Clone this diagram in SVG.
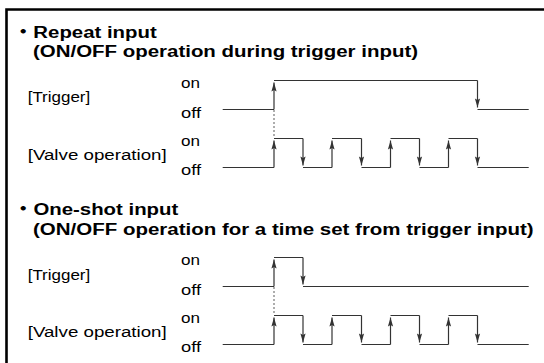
<svg xmlns="http://www.w3.org/2000/svg" width="544" height="363" viewBox="0 0 544 363">
<style>
.t{font-family:"Liberation Sans","Noto Sans CJK JP",sans-serif;fill:#000}
.b{font-weight:bold;font-size:17.4px}
.r{font-size:15.5px}
.w{fill:none;stroke:#333;stroke-width:1.2}
.e{fill:none;stroke:#333;stroke-width:1.2;marker-end:url(#arr)}
.d{fill:none;stroke:#777;stroke-width:1.2;stroke-dasharray:2,2}
</style>
<defs>
<marker id="arr" markerUnits="userSpaceOnUse" viewBox="-10 -4 11 8" markerWidth="11" markerHeight="8" refX="0" refY="0" orient="auto" overflow="visible">
<path d="M0,0 L-9,-2.6 L-7.5,0 L-9,2.6 Z" fill="#333"/>
</marker>
</defs>
<rect width="544" height="363" fill="#fff"/>
<path id="frame" d="M6.5,363 V9.5 H544" fill="none" stroke="#000" stroke-width="2.6"/>

<g id="repeat">
<text class="t b" x="13" y="37.5" textLength="143.7" lengthAdjust="spacingAndGlyphs">・Repeat input</text>
<text class="t b" x="33" y="57.2" textLength="385" lengthAdjust="spacingAndGlyphs">(ON/OFF operation during trigger input)</text>
<text class="t r" x="27.7" y="102" textLength="62.5" lengthAdjust="spacingAndGlyphs">[Trigger]</text>
<text class="t r" x="181" y="87.5" textLength="19" lengthAdjust="spacingAndGlyphs">on</text>
<text class="t r" x="181" y="117.5" textLength="20" lengthAdjust="spacingAndGlyphs">off</text>
<text class="t r" x="27.7" y="160" textLength="139" lengthAdjust="spacingAndGlyphs">[Valve operation]</text>
<text class="t r" x="181" y="145.5" textLength="19" lengthAdjust="spacingAndGlyphs">on</text>
<text class="t r" x="181" y="175" textLength="20" lengthAdjust="spacingAndGlyphs">off</text>
</g>

<g id="repeat-waves">
<path class="w" d="M222.7,109.5 H274 M274,80.5 H477.5 M477.5,109.5 H528.7"/>
<path class="e" d="M274,109.5 V82.5"/>
<path class="e" d="M477.5,80.5 V107.5"/>
<path class="d" d="M274,110 V138"/>
<path class="w" d="M222.7,167.5 H274 M274,138.5 H303 M303,167.5 H332 M332,138.5 H361.5 M361.5,167.5 H390.5 M390.5,138.5 H419.5 M419.5,167.5 H448.5 M448.5,138.5 H477.5 M477.5,167.5 H528.7"/>
<path class="e" d="M274,167.5 V140.5"/>
<path class="e" d="M332,167.5 V140.5"/>
<path class="e" d="M390.5,167.5 V140.5"/>
<path class="e" d="M448.5,167.5 V140.5"/>
<path class="e" d="M303,138.5 V165.5"/>
<path class="e" d="M361.5,138.5 V165.5"/>
<path class="e" d="M419.5,138.5 V165.5"/>
<path class="e" d="M477.5,138.5 V165.5"/>
</g>

<g id="oneshot">
<text class="t b" x="13" y="215" textLength="165.3" lengthAdjust="spacingAndGlyphs">・One-shot input</text>
<text class="t b" x="33" y="234.7" textLength="500.7" lengthAdjust="spacingAndGlyphs">(ON/OFF operation for a time set from trigger input)</text>
<text class="t r" x="27.7" y="279.5" textLength="62.5" lengthAdjust="spacingAndGlyphs">[Trigger]</text>
<text class="t r" x="181" y="264.5" textLength="19" lengthAdjust="spacingAndGlyphs">on</text>
<text class="t r" x="181" y="294.5" textLength="20" lengthAdjust="spacingAndGlyphs">off</text>
<text class="t r" x="27.7" y="337" textLength="139" lengthAdjust="spacingAndGlyphs">[Valve operation]</text>
<text class="t r" x="181" y="322.5" textLength="19" lengthAdjust="spacingAndGlyphs">on</text>
<text class="t r" x="181" y="352" textLength="20" lengthAdjust="spacingAndGlyphs">off</text>
</g>

<g id="oneshot-waves">
<path class="w" d="M222.7,286.5 H274 M274,257.5 H303 M303,286.5 H528.7"/>
<path class="e" d="M274,286.5 V259.5"/>
<path class="e" d="M303,257.5 V284.5"/>
<path class="d" d="M274,287 V315"/>
<path class="w" d="M222.7,344.5 H274 M274,315.5 H303 M303,344.5 H332 M332,315.5 H361.5 M361.5,344.5 H390.5 M390.5,315.5 H419.5 M419.5,344.5 H448.5 M448.5,315.5 H477.5 M477.5,344.5 H528.7"/>
<path class="e" d="M274,344.5 V317.5"/>
<path class="e" d="M332,344.5 V317.5"/>
<path class="e" d="M390.5,344.5 V317.5"/>
<path class="e" d="M448.5,344.5 V317.5"/>
<path class="e" d="M303,315.5 V342.5"/>
<path class="e" d="M361.5,315.5 V342.5"/>
<path class="e" d="M419.5,315.5 V342.5"/>
<path class="e" d="M477.5,315.5 V342.5"/>
</g>
</svg>
